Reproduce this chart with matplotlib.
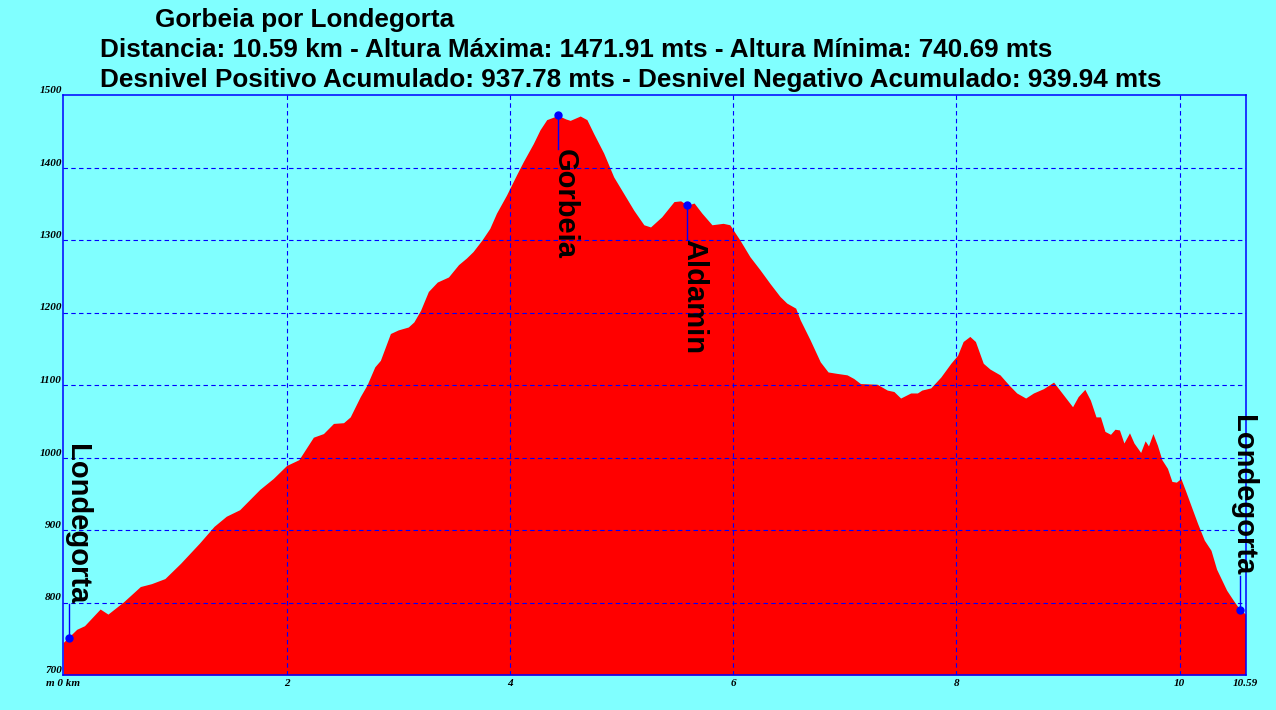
"""
Perfil de altitud: Gorbeia por Londegorta.
"""

import matplotlib
matplotlib.use("Agg")
import matplotlib.pyplot as plt
from matplotlib.transforms import offset_copy

# ---------------------------------------------------------------------------
# Datos del perfil (km, m)
# ---------------------------------------------------------------------------

dist_km = [
    0.00, 0.12, 0.19, 0.33, 0.40, 0.54, 0.69, 0.79, 0.91, 1.05,
    1.22, 1.35, 1.46, 1.58, 1.76, 1.88, 2.00, 2.11, 2.24, 2.33,
    2.42, 2.51, 2.57, 2.66, 2.72, 2.79, 2.84, 2.93, 3.00, 3.09,
    3.14, 3.20, 3.27, 3.35, 3.45, 3.54, 3.61, 3.67, 3.75, 3.82,
    3.88, 3.97, 4.06, 4.12, 4.21, 4.27, 4.33, 4.40, 4.43, 4.50,
    4.54, 4.63, 4.69, 4.75, 4.84, 4.93, 5.02, 5.11, 5.20, 5.26,
    5.36, 5.47, 5.53, 5.59, 5.65, 5.72, 5.81, 5.91, 5.97, 6.06,
    6.15, 6.24, 6.33, 6.42, 6.48, 6.56, 6.60, 6.69, 6.78, 6.85,
    6.93, 7.02, 7.08, 7.14, 7.29, 7.38, 7.44, 7.50, 7.59, 7.65,
    7.69, 7.77, 7.86, 7.95, 8.01, 8.06, 8.12, 8.17, 8.24, 8.30,
    8.39, 8.47, 8.54, 8.62, 8.69, 8.78, 8.87, 8.96, 9.04, 9.09,
    9.15, 9.20, 9.25, 9.29, 9.33, 9.38, 9.42, 9.46, 9.50, 9.55,
    9.59, 9.65, 9.69, 9.72, 9.76, 9.80, 9.84, 9.89, 9.93, 9.97,
    10.01, 10.05, 10.10, 10.16, 10.22, 10.28, 10.33, 10.42, 10.48, 10.54,
    10.59,
]

altitud_m = [
    745, 763, 768, 791, 784, 801, 822, 826, 833, 854,
    882, 905, 919, 928, 956, 971, 989, 997, 1028, 1033,
    1047, 1048, 1056, 1084, 1100, 1125, 1134, 1171, 1176, 1180,
    1187, 1203, 1229, 1242, 1249, 1266, 1275, 1284, 1300, 1316,
    1337, 1362, 1390, 1408, 1433, 1452, 1466, 1470, 1471.9, 1467,
    1465, 1471, 1466, 1447, 1420, 1387, 1364, 1341, 1321, 1318,
    1332, 1353, 1354, 1348, 1351, 1337, 1321, 1323, 1321, 1300,
    1277, 1259, 1240, 1222, 1213, 1206, 1190, 1162, 1132, 1118,
    1116, 1114, 1109, 1102, 1101, 1093, 1091, 1082, 1089, 1089,
    1093, 1096, 1111, 1130, 1141, 1160, 1167, 1160, 1130, 1122,
    1114, 1100, 1089, 1082, 1089, 1095, 1104, 1086, 1070, 1084,
    1094, 1079, 1056, 1056, 1036, 1032, 1039, 1038, 1020, 1034,
    1020, 1007, 1023, 1016, 1033, 1017, 997, 985, 967, 966,
    971, 955, 934, 909, 886, 872, 846, 817, 803, 790,
    784,
]

# Puntos de paso
wp_names = ["Londegorta", "Gorbeia", "Aldamin", "Londegorta"]
wp_km    = [0.05, 4.43, 5.59, 10.54]
wp_alt   = [751, 1471.9, 1348, 790]
wp_up    = [True, False, False, True]   # etiqueta por encima o por debajo
wp_dx    = [-6, -7, -7, -11]            # desplazamiento horizontal del texto (px)

x_ticks  = [0, 2, 4, 6, 8, 10, 10.59]
x_labels = ["m 0 km", "2", "4", "6", "8", "10", "10.59"]
y_ticks  = [700, 800, 900, 1000, 1100, 1200, 1300, 1400, 1500]

titulo = [
    "Gorbeia por Londegorta",
    "Distancia: 10.59 km - Altura Máxima: 1471.91 mts - Altura Mínima: 740.69 mts",
    "Desnivel Positivo Acumulado: 937.78 mts - Desnivel Negativo Acumulado: 939.94 mts",
]

BG   = "#80FFFF"
FILL = "#FF0000"
BLUE = "#0000FF"

# ---------------------------------------------------------------------------
# Figura
# ---------------------------------------------------------------------------

W, H = 1276, 710
fig = plt.figure(figsize=(W / 100, H / 100), dpi=100, facecolor=BG)
ax = fig.add_axes([63.3 / W, (H - 675) / H, (1245.6 - 63.3) / W, (675 - 95) / H])
ax.set_facecolor(BG)

ax.fill_between(dist_km, altitud_m, 700, color=FILL, linewidth=0, zorder=2)

ax.set_xlim(0, 10.59)
ax.set_ylim(700, 1500)

for s in ax.spines.values():
    s.set_color(BLUE)
    s.set_linewidth(1.1)
    s.set_zorder(5)

# rejilla
for xv in x_ticks[1:-1]:
    ax.axvline(xv, color=BLUE, lw=0.8, ls=(0, (4, 3)), zorder=3)
for yv in y_ticks[1:-1]:
    ax.axhline(yv, color=BLUE, lw=0.8, ls=(0, (4, 3)), zorder=3)

tick_font = dict(family="Liberation Serif", weight="bold", style="italic", size=8)
ax.set_xticks(x_ticks)
ax.set_xticklabels(x_labels, **tick_font)
ax.set_yticks(y_ticks)
ax.set_yticklabels([str(v) for v in y_ticks], **tick_font)
ax.tick_params(axis="both", length=0)
ax.tick_params(axis="x", pad=3)
ax.tick_params(axis="y", pad=1)
for lab in ax.get_yticklabels():
    lab.set_verticalalignment("bottom")

# puntos de paso
line_len = 47   # m
for name, xk, alt, up, dx in zip(wp_names, wp_km, wp_alt, wp_up, wp_dx):
    end = alt + line_len if up else alt - line_len
    ax.plot([xk, xk], [alt, end], color=BLUE, lw=1, zorder=6, clip_on=False)
    ax.plot(xk, alt, "o", color=BLUE, ms=5, zorder=7, clip_on=False)
    tr = offset_copy(ax.transData, fig=fig, x=dx, y=0, units="dots")
    ax.text(xk, end, name, transform=tr, rotation=-90,
            ha="left", va="bottom" if up else "top",
            family="Liberation Sans", weight="bold", fontsize=21,
            color="black", zorder=8, clip_on=False)

# títulos
title_font = dict(family="Liberation Sans", weight="bold", fontsize=18.8, color="black")
fig.text(155 / W, 1 - 27 / H, titulo[0], va="baseline", ha="left", **title_font)
fig.text(100 / W, 1 - 57 / H, titulo[1], va="baseline", ha="left", **title_font)
fig.text(100 / W, 1 - 87 / H, titulo[2], va="baseline", ha="left", **title_font)

fig.savefig("out.png", dpi=100, facecolor=BG)
